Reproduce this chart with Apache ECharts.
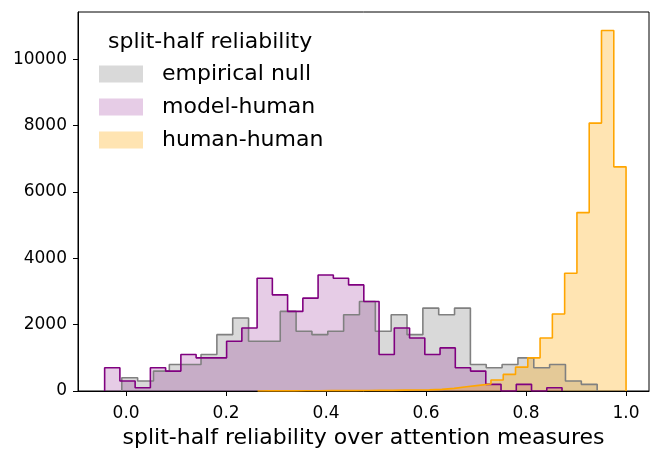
<!DOCTYPE html>
<html>
<head>
<meta charset="utf-8">
<script src="https://cdn.jsdelivr.net/npm/echarts@6/dist/echarts.min.js"></script>
<style>
  html, body { margin: 0; padding: 0; background: #fff; }
  #chart { width: 664px; height: 461px; }
</style>
</head>
<body>
<div id="chart"></div>
<script>
// histogram bins: first edge, bin width, counts per bin
const nullStart = -0.0087, nullWidth = 0.0317;
const nullCounts = [400, 300, 600, 800, 800, 1100, 1700, 2200, 1500, 1500,
    2400, 1800, 1700, 1800, 2300, 2700, 1800, 2300, 1700, 2500,
    2300, 2500, 800, 700, 800, 1000, 700, 800, 300, 200];

const modelStart = -0.043, modelWidth = 0.0305;
const modelCounts = [700, 300, 100, 700, 600, 1100, 1000, 1000, 1500, 1900,
    3400, 2900, 2400, 2800, 3500, 3400, 3200, 2700, 1100, 1900,
    1600, 1100, 1300, 700, 600, 200, 0, 200, 0, 100];

const humanStart = 0.263, humanWidth = 0.02457;
const humanCounts = [5, 5, 5, 8, 8, 10, 10, 12, 15, 20,
    20, 25, 30, 35, 50, 80, 130, 170, 210, 330,
    500, 720, 1000, 1600, 2320, 3550, 5380, 8080, 10870, 6760];

const xTicks = [0, 0.2, 0.4, 0.6, 0.8, 1.0];
const yTicks = [0, 2000, 4000, 6000, 8000, 10000];

const names = ["empirical null", "model-human", "human-human"];

function stepPoints(start, width, counts) {
    const pts = [[start, 0]];
    counts.forEach((c, i) => pts.push([start + i * width, c]));
    const end = start + counts.length * width;
    pts.push([end, counts[counts.length - 1]]);
    pts.push([end, 0]);
    return pts;
}

function histSeries(name, pts, line, fill) {
    return {
        name: name,
        type: "line",
        step: "end",
        data: pts,
        showSymbol: false,
        symbol: "none",
        lineStyle: { color: line, width: 1.6 },
        itemStyle: { color: line },
        areaStyle: { color: fill, opacity: 1 },
        silent: true,
    };
}

const font = "DejaVu Sans";
const chart = echarts.init(document.getElementById("chart"), null, { renderer: "canvas" });

chart.setOption({
    animation: false,
    backgroundColor: "#fff",
    grid: { left: 78, right: 15, top: 12, bottom: 70, show: true, borderColor: "#000", borderWidth: 1, backgroundColor: "transparent" },
    title: {
        text: "split-half reliability",
        left: 108,
        top: 31,
        padding: 0,
        textStyle: { fontFamily: font, fontSize: 22, fontWeight: "normal", color: "#000" },
    },
    legend: {
        orient: "vertical",
        left: 99,
        top: 63,
        padding: 0,
        icon: "rect",
        itemWidth: 44,
        itemHeight: 17,
        itemGap: 11,
        selectedMode: false,
        textStyle: { fontFamily: font, fontSize: 22, color: "#000", lineHeight: 22, padding: [0, 0, 0, 14] },
        data: [
            { name: names[0], itemStyle: { color: "#d9d9d9", borderWidth: 0 } },
            { name: names[1], itemStyle: { color: "#e6cce6", borderWidth: 0 } },
            { name: names[2], itemStyle: { color: "#ffe4b2", borderWidth: 0 } },
        ],
    },
    xAxis: {
        type: "value",
        min: -0.0963,
        max: 1.046,
        name: "split-half reliability over attention measures",
        nameLocation: "middle",
        nameGap: 35,
        nameTextStyle: { fontFamily: font, fontSize: 22, color: "#000" },
        axisLine: { onZero: false, lineStyle: { color: "#000", width: 1 } },
        axisTick: { show: true, length: 5, lineStyle: { color: "#000" }, customValues: xTicks },
        axisLabel: {
            fontFamily: font, fontSize: 17, color: "#000", margin: 14,
            customValues: xTicks,
            formatter: (v) => v.toFixed(1),
        },
        splitLine: { show: false },
    },
    yAxis: {
        type: "value",
        min: 0,
        max: 11430,
        axisLine: { show: true, onZero: false, lineStyle: { color: "#000", width: 1 } },
        axisTick: { show: true, length: 5, lineStyle: { color: "#000" }, customValues: yTicks },
        axisLabel: {
            fontFamily: font, fontSize: 17, color: "#000", margin: 11,
            customValues: yTicks,
            formatter: (v) => String(v),
        },
        splitLine: { show: false },
    },
    series: [
        histSeries(names[0], stepPoints(nullStart, nullWidth, nullCounts), "#808080", "rgba(128,128,128,0.3)"),
        histSeries(names[1], stepPoints(modelStart, modelWidth, modelCounts), "#800080", "rgba(128,0,128,0.2)"),
        histSeries(names[2], stepPoints(humanStart, humanWidth, humanCounts), "#ffa500", "rgba(255,165,0,0.3)"),
    ],
});
</script>
</body>
</html>
